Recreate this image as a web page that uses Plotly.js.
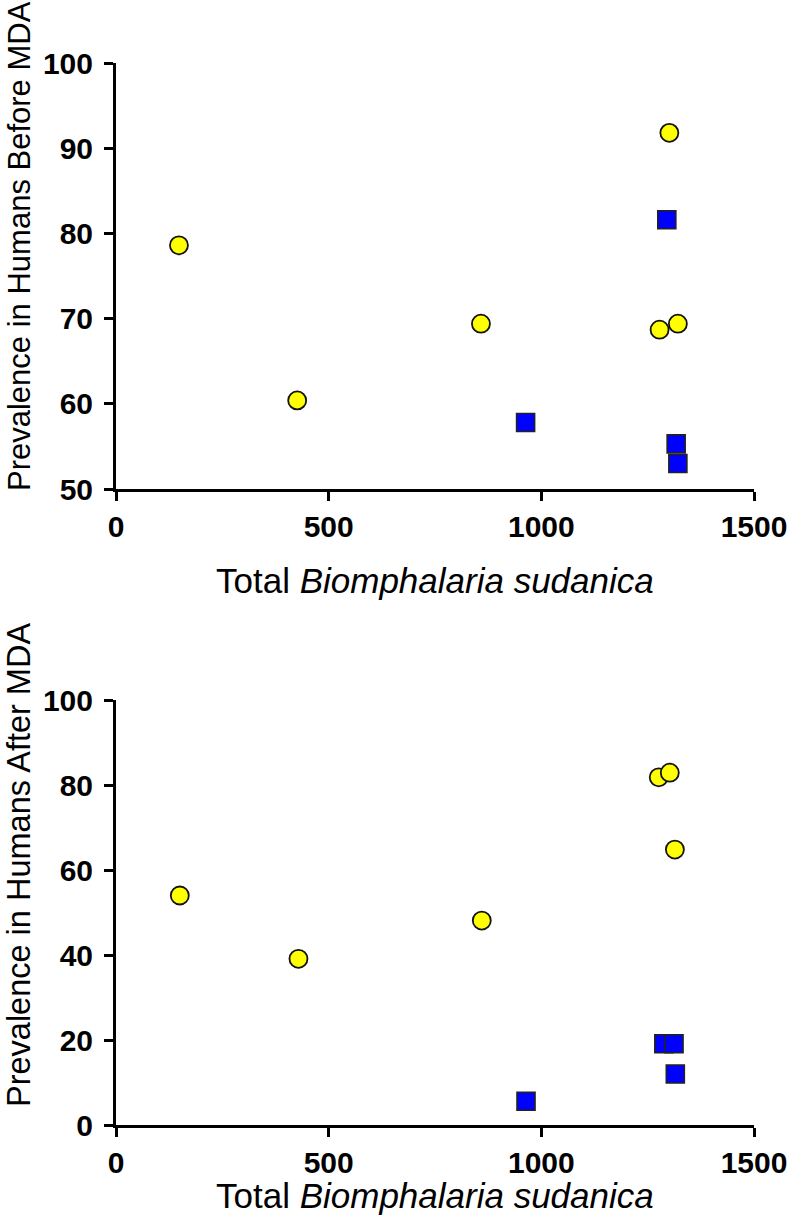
<!DOCTYPE html>
<html>
<head>
<meta charset="utf-8">
<script src="https://cdn.plot.ly/plotly-3.0.1.min.js"></script>
<style>
html,body{margin:0;padding:0;background:#fff;}
#chart{width:789px;height:1232px;}
</style>
</head>
<body>
<div id="chart"></div>
<script>
// Top panel: prevalence before MDA
const beforeCircleX = [148, 426, 858, 1278, 1301, 1321];
const beforeCircleY = [78.6, 60.4, 69.4, 68.7, 91.8, 69.4];
const beforeSquareX = [963, 1295, 1317, 1321];
const beforeSquareY = [57.8, 81.6, 55.3, 53.0];

// Bottom panel: prevalence after MDA
const afterCircleX = [150, 429, 860, 1276, 1302, 1314];
const afterCircleY = [54.0, 39.1, 48.1, 81.8, 82.9, 64.8];
const afterSquareX = [964, 1288, 1312, 1315];
const afterSquareY = [5.6, 19.1, 19.1, 12.0];

const xTickVals = [0, 500, 1000, 1500];
const beforeYTicks = [50, 60, 70, 80, 90, 100];
const afterYTicks = [0, 20, 40, 60, 80, 100];

const xTitle = 'Total <i>Biomphalaria sudanica</i>';
const beforeYTitle = 'Prevalence in Humans Before MDA';
const afterYTitle = 'Prevalence in Humans After MDA';

const W = 789, H = 1232;
const FONT = 'Liberation Sans, Arial, sans-serif';

const circleMarker = {symbol: 'circle', size: 18, color: '#ffff00', line: {color: '#111', width: 1.8}};
const squareMarker = {symbol: 'square', size: 18, color: '#0000ff', line: {color: '#222', width: 1.6}};

const traces = [
  {x: beforeCircleX, y: beforeCircleY, xaxis: 'x', yaxis: 'y', mode: 'markers', type: 'scatter', marker: circleMarker, cliponaxis: false},
  {x: beforeSquareX, y: beforeSquareY, xaxis: 'x', yaxis: 'y', mode: 'markers', type: 'scatter', marker: squareMarker, cliponaxis: false},
  {x: afterCircleX, y: afterCircleY, xaxis: 'x2', yaxis: 'y2', mode: 'markers', type: 'scatter', marker: circleMarker, cliponaxis: false},
  {x: afterSquareX, y: afterSquareY, xaxis: 'x2', yaxis: 'y2', mode: 'markers', type: 'scatter', marker: squareMarker, cliponaxis: false}
];

const xDom = [116 / W, 754 / W];
const topDom = [1 - 489 / H, 1 - 63 / H];
const botDom = [1 - 1125 / H, 1 - 700 / H];

function axisBase() {
  return {
    showline: true, linecolor: '#000', linewidth: 3,
    ticks: 'outside', ticklen: 9, tickwidth: 3, tickcolor: '#000',
    showgrid: false, zeroline: false, fixedrange: true,
    tickfont: {family: FONT, size: 30, weight: 'bold', color: '#000'},
    tickmode: 'array'
  };
}

const layout = {
  width: W, height: H,
  margin: {l: 0, r: 0, t: 0, b: 0},
  paper_bgcolor: '#fff', plot_bgcolor: '#fff',
  showlegend: false,
  xaxis: Object.assign(axisBase(), {domain: xDom, range: [0, 1500], tickvals: xTickVals, anchor: 'y'}),
  yaxis: Object.assign(axisBase(), {domain: topDom, range: [50, 100], tickvals: beforeYTicks, anchor: 'x', ticklabelstandoff: 5}),
  xaxis2: Object.assign(axisBase(), {domain: xDom, range: [0, 1500], tickvals: xTickVals, anchor: 'y2'}),
  yaxis2: Object.assign(axisBase(), {domain: botDom, range: [0, 100], tickvals: afterYTicks, anchor: 'x2', ticklabelstandoff: 5}),
  annotations: [
    {text: xTitle, xref: 'paper', yref: 'paper', x: 435 / W, y: 1 - 580 / H, showarrow: false,
     xanchor: 'center', yanchor: 'middle', font: {family: FONT, size: 35, color: '#000'}},
    {text: xTitle, xref: 'paper', yref: 'paper', x: 435 / W, y: 1 - 1195 / H, showarrow: false,
     xanchor: 'center', yanchor: 'middle', font: {family: FONT, size: 35, color: '#000'}},
    {text: beforeYTitle, xref: 'paper', yref: 'paper', x: 19 / W, y: 1 - 246 / H, showarrow: false,
     textangle: -90, xanchor: 'center', yanchor: 'middle', font: {family: FONT, size: 31, color: '#000'}},
    {text: afterYTitle, xref: 'paper', yref: 'paper', x: 19 / W, y: 1 - 865 / H, showarrow: false,
     textangle: -90, xanchor: 'center', yanchor: 'middle', font: {family: FONT, size: 32.5, color: '#000'}}
  ]
};

Plotly.newPlot('chart', traces, layout, {displayModeBar: false, staticPlot: true});
</script>
</body>
</html>
